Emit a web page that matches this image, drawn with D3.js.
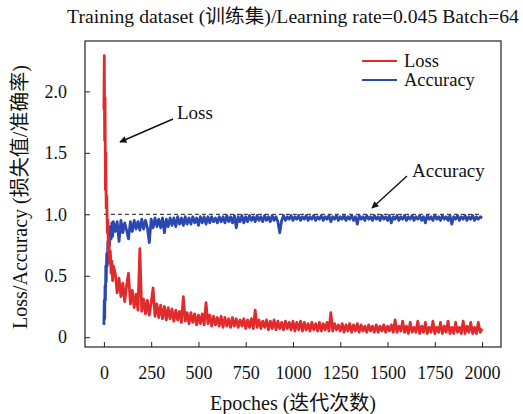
<!DOCTYPE html>
<html>
<head>
<meta charset="utf-8">
<script src="https://cdn.jsdelivr.net/npm/d3@7"></script>
<style>
  body { margin: 0; background: #fff; }
  svg text { font-family: "Liberation Serif", "Times New Roman", "Noto Sans CJK SC", serif; fill: #111; }
</style>
</head>
<body>
<div id="chart"></div>
<script>
// Data
const titleText = "Training dataset (训练集)/Learning rate=0.045 Batch=64";
const xTicks = [0, 250, 500, 750, 1000, 1250, 1500, 1750, 2000];
const yTicks = [0, 0.5, 1.0, 1.5, 2.0];
const seriesNames = ["Loss", "Accuracy"];

const epochs = [0, 2, 4, 6, 8, 10, 12, 15, 18, 21, 24, 27, 30, 34, 38, 42, 46, 50,
  60, 70, 80, 90, 100, 110, 120, 130, 140, 150,
  160, 170, 180, 190, 200, 210, 220, 230, 240, 250,
  260, 270, 280, 290, 300, 310, 320, 330, 340, 350,
  360, 370, 380, 390, 400, 410, 420, 430, 440, 450,
  460, 470, 480, 490, 500, 510, 520, 530, 540, 550,
  560, 570, 580, 590, 600, 610, 620, 630, 640, 650,
  660, 670, 680, 690, 700, 710, 720, 730, 740, 750,
  760, 770, 780, 790, 800, 810, 820, 830, 840, 850,
  860, 870, 880, 890, 900, 910, 920, 930, 940, 950,
  960, 970, 980, 990, 1000, 1010, 1020, 1030, 1040, 1050,
  1060, 1070, 1080, 1090, 1100, 1110, 1120, 1130, 1140, 1150,
  1160, 1170, 1180, 1190, 1200, 1210, 1220, 1230, 1240, 1250,
  1260, 1270, 1280, 1290, 1300, 1310, 1320, 1330, 1340, 1350,
  1360, 1370, 1380, 1390, 1400, 1410, 1420, 1430, 1440, 1450,
  1460, 1470, 1480, 1490, 1500, 1510, 1520, 1530, 1540, 1550,
  1560, 1570, 1580, 1590, 1600, 1610, 1620, 1630, 1640, 1650,
  1660, 1670, 1680, 1690, 1700, 1710, 1720, 1730, 1740, 1750,
  1760, 1770, 1780, 1790, 1800, 1810, 1820, 1830, 1840, 1850,
  1860, 1870, 1880, 1890, 1900, 1910, 1920, 1930, 1940, 1950,
  1960, 1970, 1980, 1990, 2000];

const lossValues = [1.85, 2.29, 1.6, 1.95, 1.2, 1.5, 1.05, 1.15, 0.85, 0.95, 0.7, 0.8, 0.6, 0.7, 0.52, 0.62, 0.46, 0.58,
  0.52, 0.36, 0.48, 0.33, 0.44, 0.29, 0.42, 0.52, 0.27, 0.38,
  0.24, 0.35, 0.22, 0.72, 0.21, 0.31, 0.19, 0.30, 0.18, 0.28,
  0.40, 0.17, 0.27, 0.16, 0.26, 0.15, 0.25, 0.14, 0.24, 0.15,
  0.23, 0.13, 0.22, 0.14, 0.21, 0.12, 0.33, 0.13, 0.20, 0.11,
  0.20, 0.12, 0.19, 0.10, 0.18, 0.11, 0.19, 0.10, 0.28, 0.11,
  0.18, 0.09, 0.17, 0.10, 0.16, 0.09, 0.17, 0.08, 0.16, 0.09,
  0.15, 0.08, 0.16, 0.09, 0.15, 0.08, 0.14, 0.09, 0.15, 0.07,
  0.14, 0.08, 0.15, 0.07, 0.22, 0.08, 0.14, 0.07, 0.13, 0.08,
  0.14, 0.06, 0.13, 0.07, 0.14, 0.06, 0.13, 0.07, 0.12, 0.06,
  0.13, 0.07, 0.12, 0.06, 0.13, 0.05, 0.12, 0.06, 0.13, 0.05,
  0.12, 0.06, 0.11, 0.05, 0.12, 0.06, 0.11, 0.05, 0.12, 0.05,
  0.11, 0.06, 0.12, 0.05, 0.20, 0.05, 0.11, 0.06, 0.10, 0.05,
  0.11, 0.04, 0.10, 0.05, 0.11, 0.04, 0.10, 0.05, 0.11, 0.04,
  0.10, 0.05, 0.09, 0.04, 0.10, 0.05, 0.09, 0.04, 0.10, 0.04,
  0.09, 0.05, 0.10, 0.04, 0.09, 0.05, 0.10, 0.04, 0.14, 0.04,
  0.09, 0.05, 0.13, 0.04, 0.09, 0.03, 0.12, 0.04, 0.08, 0.04,
  0.13, 0.03, 0.09, 0.04, 0.12, 0.03, 0.08, 0.04, 0.13, 0.03,
  0.08, 0.04, 0.12, 0.03, 0.09, 0.04, 0.13, 0.03, 0.08, 0.03,
  0.12, 0.04, 0.08, 0.03, 0.13, 0.03, 0.09, 0.04, 0.12, 0.03,
  0.08, 0.03, 0.12, 0.04, 0.07];

const accValues = [0.1, 0.3, 0.15, 0.42, 0.3, 0.58, 0.45, 0.68, 0.58, 0.78, 0.68, 0.85, 0.75, 0.9, 0.8, 0.93, 0.82, 0.94,
  0.86, 0.94, 0.78, 0.95, 0.85, 0.93, 0.87, 0.80, 0.94, 0.86,
  0.95, 0.88, 0.94, 0.87, 0.96, 0.88, 0.95, 0.89, 0.77, 0.96,
  0.89, 0.97, 0.90, 0.96, 0.89, 0.97, 0.85, 0.96, 0.90, 0.97,
  0.91, 0.97, 0.90, 0.98, 0.92, 0.97, 0.91, 0.98, 0.92, 0.97,
  0.92, 0.98, 0.93, 0.97, 0.91, 0.98, 0.93, 0.98, 0.92, 0.98,
  0.93, 0.98, 0.94, 0.97, 0.93, 0.98, 0.94, 0.98, 0.93, 0.99,
  0.94, 0.98, 0.93, 0.99, 0.89, 0.98, 0.94, 0.99, 0.93, 0.98,
  0.94, 0.99, 0.95, 0.98, 0.94, 0.99, 0.95, 0.98, 0.94, 0.99,
  0.95, 0.98, 0.94, 0.99, 0.95, 0.98, 0.94, 0.85, 0.95, 0.99,
  0.95, 0.98, 0.96, 0.99, 0.95, 0.98, 0.96, 0.99, 0.95, 0.98,
  0.96, 0.99, 0.95, 0.98, 0.96, 0.99, 0.95, 0.98, 0.96, 0.99,
  0.95, 0.98, 0.96, 0.99, 0.94, 0.98, 0.96, 0.99, 0.95, 0.98,
  0.96, 0.99, 0.95, 0.98, 0.96, 0.99, 0.95, 0.98, 0.92, 0.99,
  0.96, 0.98, 0.95, 0.99, 0.96, 0.98, 0.95, 0.99, 0.96, 0.98,
  0.95, 0.99, 0.96, 0.98, 0.95, 0.99, 0.93, 0.98, 0.96, 0.99,
  0.95, 0.98, 0.96, 0.99, 0.95, 0.98, 0.96, 0.99, 0.95, 0.98,
  0.96, 0.99, 0.95, 0.98, 0.93, 0.99, 0.96, 0.98, 0.95, 0.99,
  0.96, 0.98, 0.95, 0.99, 0.96, 0.98, 0.95, 0.99, 0.92, 0.98,
  0.96, 0.99, 0.95, 0.98, 0.96, 0.99, 0.95, 0.98, 0.96, 0.99,
  0.95, 0.98, 0.96, 0.98, 0.97];

const referenceLevel = 1.0;

document.addEventListener('DOMContentLoaded', () => {
  const W = 523, H = 414;
  const plot = {left: 85, right: 501, top: 41, bottom: 347};
  const colors = {Loss: "#e02a2c", Accuracy: "#2b48b2"};

  const svg = d3.select("#chart").append("svg")
    .attr("width", W)
    .attr("height", H);

  const x = d3.scaleLinear().domain([-100, 2100]).range([plot.left, plot.right]);
  const y = d3.scaleLinear().domain([-0.08, 2.41]).range([plot.bottom, plot.top]);

  const lossData = epochs.map((e, i) => ({e, v: lossValues[i]}));
  const accData = epochs.map((e, i) => ({e, v: accValues[i]}));

  const line = d3.line().x(d => x(d.e)).y(d => y(d.v));

  // dashed reference line at 1.0
  svg.append("line")
    .attr("x1", x(0)).attr("x2", x(2000))
    .attr("y1", y(referenceLevel)).attr("y2", y(referenceLevel))
    .attr("stroke", "#444").attr("stroke-width", 1.2)
    .attr("stroke-dasharray", "4,3");

  svg.append("path").datum(accData)
    .attr("d", line)
    .attr("fill", "none")
    .attr("stroke", colors.Accuracy)
    .attr("stroke-width", 2.8)
    .attr("stroke-linejoin", "round");

  svg.append("path").datum(lossData)
    .attr("d", line)
    .attr("fill", "none")
    .attr("stroke", colors.Loss)
    .attr("stroke-width", 2.8)
    .attr("stroke-linejoin", "round");

  // axes with inward ticks
  const xAxis = svg.append("g")
    .attr("transform", `translate(0,${plot.bottom})`)
    .call(d3.axisBottom(x).tickValues(xTicks).tickSize(-5).tickPadding(19).tickFormat(d3.format("d")));
  const yAxis = svg.append("g")
    .attr("transform", `translate(${plot.left},0)`)
    .call(d3.axisLeft(y).tickValues(yTicks).tickSize(-5).tickPadding(18).tickFormat(d => d === 0 ? "0" : d3.format(".1f")(d)));

  [xAxis, yAxis].forEach(a => {
    a.select(".domain").remove();
    a.selectAll(".tick line").attr("stroke", "#222").attr("stroke-width", 1);
    a.selectAll(".tick text").style("font-size", "18px").attr("fill", "#111");
  });

  // frame
  svg.append("rect")
    .attr("x", plot.left).attr("y", plot.top)
    .attr("width", plot.right - plot.left).attr("height", plot.bottom - plot.top)
    .attr("fill", "none").attr("stroke", "#222").attr("stroke-width", 1.2);

  // title and axis labels
  svg.append("text")
    .attr("x", 293).attr("y", 23)
    .attr("text-anchor", "middle")
    .style("font-size", "19.7px")
    .text(titleText);

  svg.append("text")
    .attr("x", 293).attr("y", 410)
    .attr("text-anchor", "middle")
    .style("font-size", "20px")
    .text("Epoches (迭代次数)");

  svg.append("text")
    .attr("transform", "rotate(-90)")
    .attr("x", -197).attr("y", 27)
    .attr("text-anchor", "middle")
    .style("font-size", "20px")
    .text("Loss/Accuracy (损失值/准确率)");

  // legend
  const legend = svg.append("g");
  seriesNames.forEach((name, i) => {
    const ly = 61 + i * 19;
    legend.append("line")
      .attr("x1", 362).attr("x2", 397)
      .attr("y1", ly).attr("y2", ly)
      .attr("stroke", colors[name]).attr("stroke-width", 2);
    legend.append("text")
      .attr("x", 404).attr("y", ly + 6)
      .style("font-size", "18.5px")
      .text(name);
  });

  // annotations
  svg.append("defs").append("marker")
    .attr("id", "arrow")
    .attr("viewBox", "0 0 10 10")
    .attr("refX", 9).attr("refY", 5)
    .attr("markerWidth", 10).attr("markerHeight", 7)
    .attr("markerUnits", "userSpaceOnUse")
    .attr("orient", "auto")
    .append("path")
    .attr("d", "M0,0 L10,5 L0,10 z")
    .attr("fill", "#111");

  const notes = [
    {text: "Loss", tx: 177, ty: 119, x1: 173, y1: 119, x2: 120, y2: 142},
    {text: "Accuracy", tx: 412, ty: 177, x1: 407, y1: 176, x2: 372, y2: 208}
  ];
  notes.forEach(n => {
    svg.append("line")
      .attr("x1", n.x1).attr("y1", n.y1)
      .attr("x2", n.x2).attr("y2", n.y2)
      .attr("stroke", "#111").attr("stroke-width", 1.4)
      .attr("marker-end", "url(#arrow)");
    svg.append("text")
      .attr("x", n.tx).attr("y", n.ty)
      .style("font-size", "19px")
      .text(n.text);
  });
});
</script>
</body>
</html>
